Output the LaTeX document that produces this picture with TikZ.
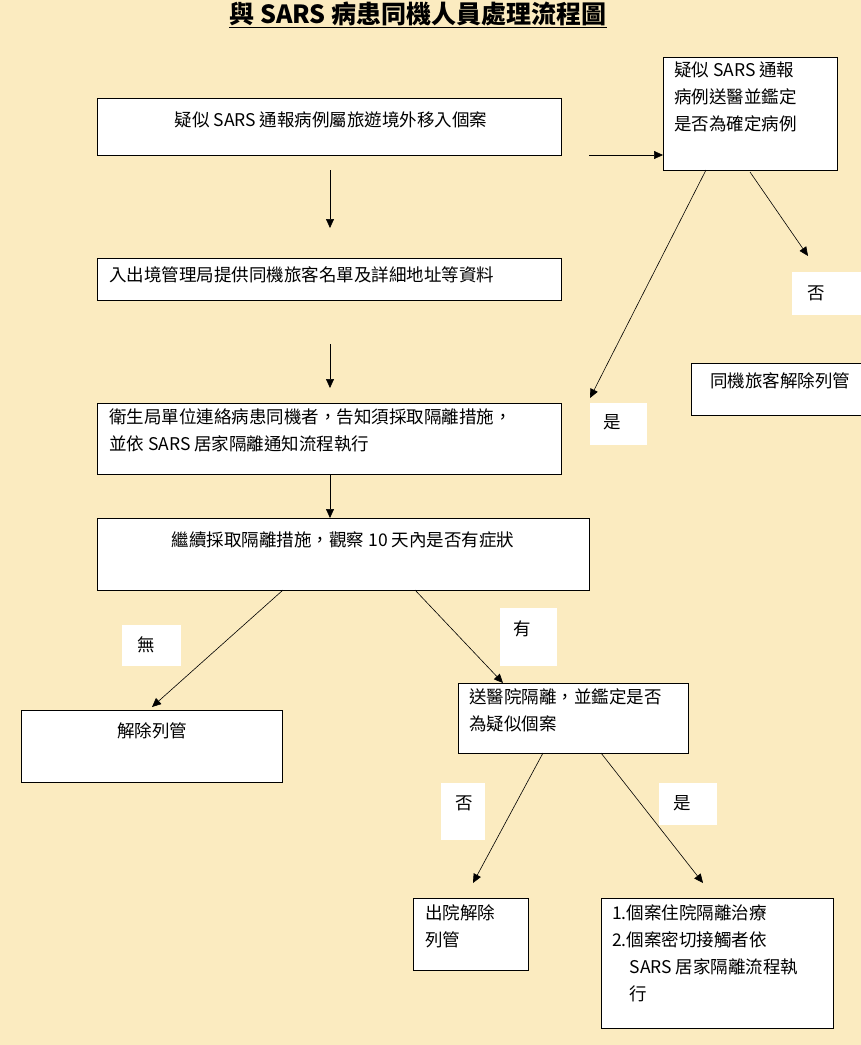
\documentclass[tikz,border=0pt]{standalone}
\usepackage{fontspec}
\newfontfamily\cjk{Noto Sans CJK TC}
\usetikzlibrary{arrows.meta}
\definecolor{bg}{HTML}{FBEBC0}
\begin{document}
\begin{tikzpicture}[x=1pt,y=-1pt,
  font=\cjk\fontsize{17.5}{27}\selectfont,
  box/.style={draw=black,fill=white,line width=0.6pt},
  lab/.style={fill=white},
  arr/.style={-{Triangle[length=9pt,width=8pt]},line width=0.6pt},
  txt/.style={anchor=north west,align=left,inner sep=0pt}]
\fill[bg] (0,0) rectangle (861,1045);
\useasboundingbox (0,0) rectangle (861,1045);
\node (title) at (418,15) {\fontsize{25}{28}\selectfont\bfseries\underline{與 SARS 病患同機人員處理流程圖}};
% boxes
\draw[box] (97,98) rectangle (561,155); \node (b1) at (331,120) {疑似 SARS 通報病例屬旅遊境外移入個案};
\coordinate (b1r) at (589,155);
\draw[box] (663,57) rectangle (837,170); \node[txt] (b2) at (674,62) {疑似 SARS 通報\\病例送醫並鑑定\\是否為確定病例};
\coordinate (b2l) at (663,155);
\draw[box] (97,258) rectangle (561,300); \node[txt] (b3) at (109,266) {入出境管理局提供同機旅客名單及詳細地址等資料};
\draw[box] (97,403) rectangle (561,474); \node[txt] (b4) at (109,408) {衛生局單位連絡病患同機者，告知須採取隔離措施，\\並依 SARS 居家隔離通知流程執行};
\draw[box] (97,518) rectangle (589,590); \node (b5) at (343,540) {繼續採取隔離措施，觀察 10 天內是否有症狀};
\draw[box] (691,363) rectangle (861,415); \node (b10) at (780,381) {同機旅客解除列管};
\draw[box] (21,710) rectangle (282,782); \node (b6) at (152,731) {解除列管};
\draw[box] (458,683) rectangle (688,753); \node[txt] (b7) at (469,688) {送醫院隔離，並鑑定是否\\為疑似個案};
\draw[box] (413,898) rectangle (528,970); \node[txt] (b8) at (425,904) {出院解除\\列管};
\draw[box] (601,898) rectangle (833,1028); \node[txt] (b9) at (612,904) {1.個案住院隔離治療\\2.個案密切接觸者依\\\hspace*{1em}SARS 居家隔離流程執\\\hspace*{1em}行};
% labels
\fill[white] (792,272) rectangle (861,315); \node (l1) at (816,293) {否};
\fill[white] (590,403) rectangle (647,445); \node (l2) at (612,422) {是};
\fill[white] (122,625) rectangle (181,666); \node (l3) at (146,645) {無};
\fill[white] (500,608) rectangle (557,666); \node (l4) at (522,629) {有};
\fill[white] (441,783) rectangle (485,840); \node (l5) at (464,803) {否};
\fill[white] (659,783) rectangle (717,825); \node (l6) at (682,803) {是};
% arrows
\coordinate (a1) at (330,170); \coordinate (a2) at (330,228);
\coordinate (a3) at (330,344); \coordinate (a4) at (330,388);
\coordinate (a5) at (330,474); \coordinate (a6) at (330,518);
\draw[arr] (b1r) -- (b2l);
\draw[arr] (a1) -- (a2);
\draw[arr] (a3) -- (a4);
\draw[arr] (a5) -- (a6);
\coordinate (c1) at (706,170); \coordinate (c2) at (590,398);
\coordinate (c3) at (750,172); \coordinate (c4) at (808,256);
\draw[arr] (c1) -- (c2);
\draw[arr] (c3) -- (c4);
\coordinate (d1) at (283,590); \coordinate (d2) at (152,707);
\coordinate (d3) at (415,590); \coordinate (d4) at (503,683);
\draw[arr] (d1) -- (d2);
\draw[arr] (d3) -- (d4);
\coordinate (e1) at (543,753); \coordinate (e2) at (473,883);
\coordinate (e3) at (601,753); \coordinate (e4) at (703,883);
\draw[arr] (e1) -- (e2);
\draw[arr] (e3) -- (e4);
\end{tikzpicture}
\end{document}
